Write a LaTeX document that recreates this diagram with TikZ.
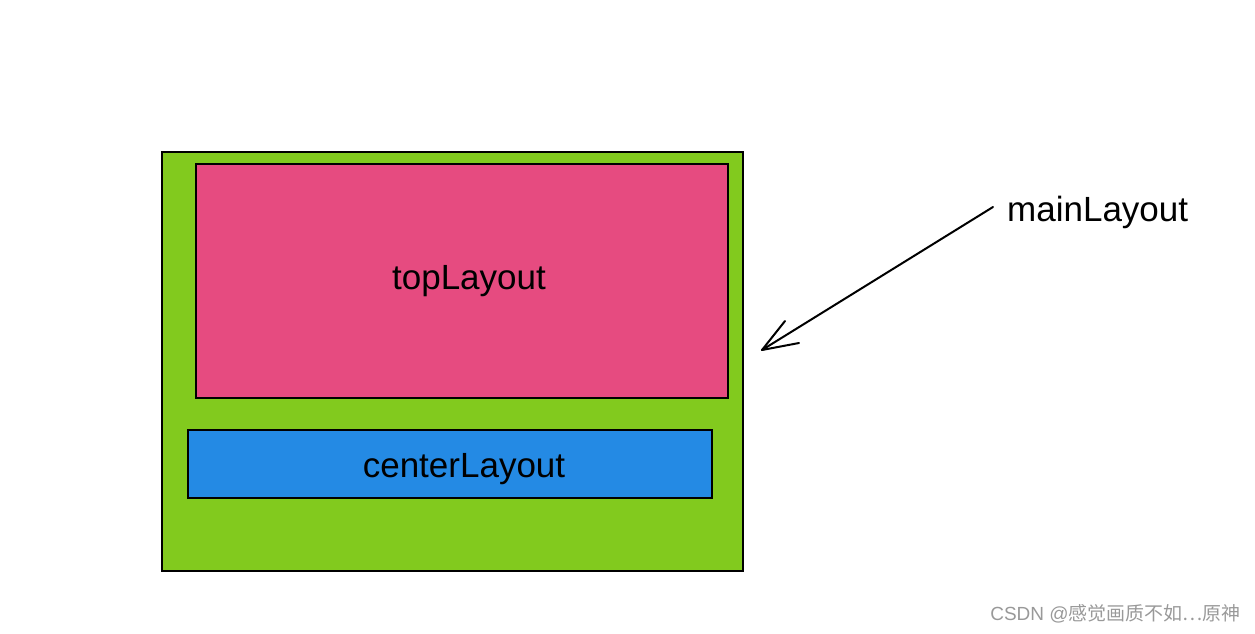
\documentclass[tikz,border=0pt]{standalone}
\usepackage{fontspec}
\setmainfont{Liberation Sans}
\newfontfamily\cjk{Noto Sans CJK SC}
\definecolor{grn}{RGB}{130,202,30}
\definecolor{pnk}{RGB}{230,75,128}
\definecolor{blu}{RGB}{36,138,228}
\begin{document}
\begin{tikzpicture}[x=1pt,y=-1pt,
  box/.style={draw=black,line width=2pt},
  lbl/.style={font=\fontsize{35}{40}\selectfont,inner sep=0pt}]
\useasboundingbox (0,0) rectangle (1255,634);
\path[box,fill=grn] (162,152) rectangle (743,571);
\path[box,fill=pnk] (196,164) rectangle (728,398);
\path[box,fill=blu] (188,430) rectangle (712,498);
\node[lbl] (top) at (469,281) {topLayout};
\node[lbl] (center) at (464,469) {centerLayout};
\node[lbl,anchor=west] (main) at (1007,212) {mainLayout};
\coordinate (s) at (993,207);
\coordinate (e) at (762,350);
\coordinate (h1) at (785,321);
\coordinate (h2) at (799,343);
\draw[line width=2pt,line cap=round] (s) -- (e);
\draw[line width=2pt,line cap=round,line join=round] (h1) -- (e) -- (h2);
\node[anchor=east,inner sep=0pt,text=black!40,font=\fontsize{19}{21}\selectfont] (wm) at (1241,614) {CSDN @{\cjk 感觉画质不如⋯原神}};
\end{tikzpicture}
\end{document}
